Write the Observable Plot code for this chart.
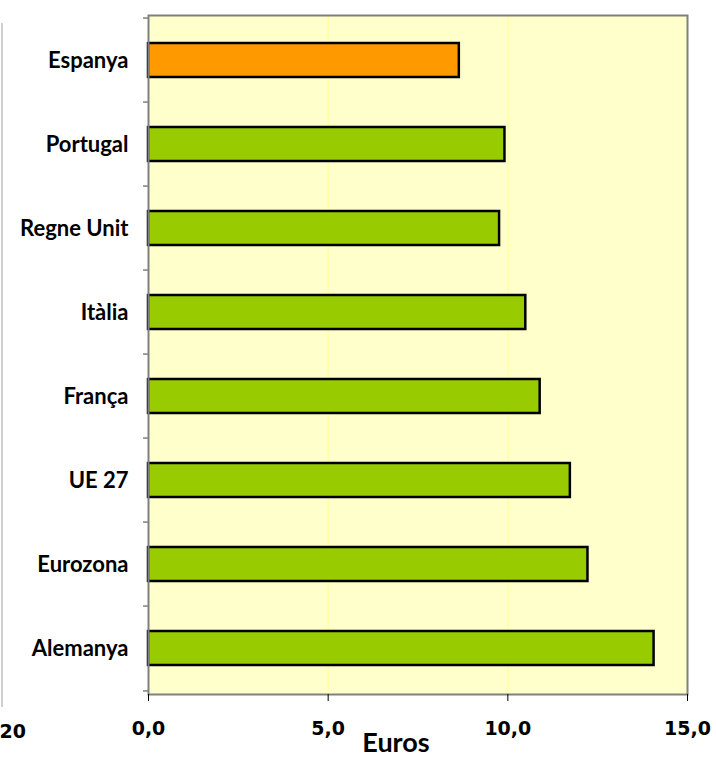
<!DOCTYPE html>
<html>
<head>
<meta charset="utf-8">
<script src="https://cdn.jsdelivr.net/npm/d3@7"></script>
<script src="https://cdn.jsdelivr.net/npm/@observablehq/plot@0.6"></script>
<style>
  html, body { margin: 0; padding: 0; background: #fff; }
</style>
</head>
<body>
<div id="chart"></div>
<script>
const countries = ["Espanya", "Portugal", "Regne Unit", "Itàlia", "França", "UE 27", "Eurozona", "Alemanya"];
const values = [8.65, 9.92, 9.77, 10.50, 10.90, 11.74, 12.23, 14.07];
const highlight = "Espanya";
const xTicks = [0, 5, 10, 15];
const gridValues = [5, 10];
const xLabel = "Euros";
const strayLabel = "20";

const data = countries.map((c, i) => ({country: c, value: values[i]}));
const fmt = d => d.toFixed(1).replace(".", ",");
const half = 679 / 8 / 2;

const chart = Plot.plot({
  width: 716,
  height: 763,
  marginLeft: 148,
  marginRight: 29,
  marginTop: 15,
  marginBottom: 69,
  style: {fontFamily: "Lato", background: "#fff", overflow: "visible"},
  x: {domain: [0, 15]},
  y: {domain: countries, paddingInner: 0.59, paddingOuter: 0.295},
  marks: [
    Plot.frame({fill: "#FFFFCC", stroke: null}),
    Plot.ruleX(gridValues, {stroke: "#FFFF99", strokeWidth: 1.2}),
    Plot.barX(data, {
      x: "value", y: "country",
      fill: d => d.country === highlight ? "#FF9900" : "#99CC00",
      stroke: "#000", strokeWidth: 2.5
    }),
    Plot.frame({stroke: "#808080", strokeWidth: 2}),
    Plot.ruleX([0], {dx: -146.5, stroke: "#c0c0c0", strokeWidth: 1.5, insetTop: 8, insetBottom: -13}),
    Plot.axisY({tickSize: 0, tickPadding: 20, fontSize: 22, fontWeight: "bold", fontFamily: "Lato", fill: "#000", label: null}),
    Plot.axisY({tickSize: 5, dy: -half, tickFormat: () => "", stroke: "#808080", strokeWidth: 1.5, label: null}),
    Plot.axisY([countries[countries.length - 1]], {tickSize: 5, dy: half, tickFormat: () => "", stroke: "#808080", strokeWidth: 1.5, label: null}),
    Plot.axisX({ticks: xTicks, tickSize: 7, tickPadding: 20, tickFormat: fmt, fontSize: 19, fontWeight: "bold", fontFamily: "DejaVu Sans", stroke: "#000", fill: "#000", label: null}),
    Plot.text([xLabel], {frameAnchor: "bottom", dx: -22, dy: 57, fontSize: 27, fontWeight: "bold", fontFamily: "Lato", fill: "#000"}),
    Plot.text([strayLabel], {frameAnchor: "bottom-left", dx: -149, dy: 43, textAnchor: "start", fontSize: 19, fontWeight: "bold", fontFamily: "DejaVu Sans", fill: "#000"})
  ]
});
document.getElementById("chart").appendChild(chart);
</script>
</body>
</html>
